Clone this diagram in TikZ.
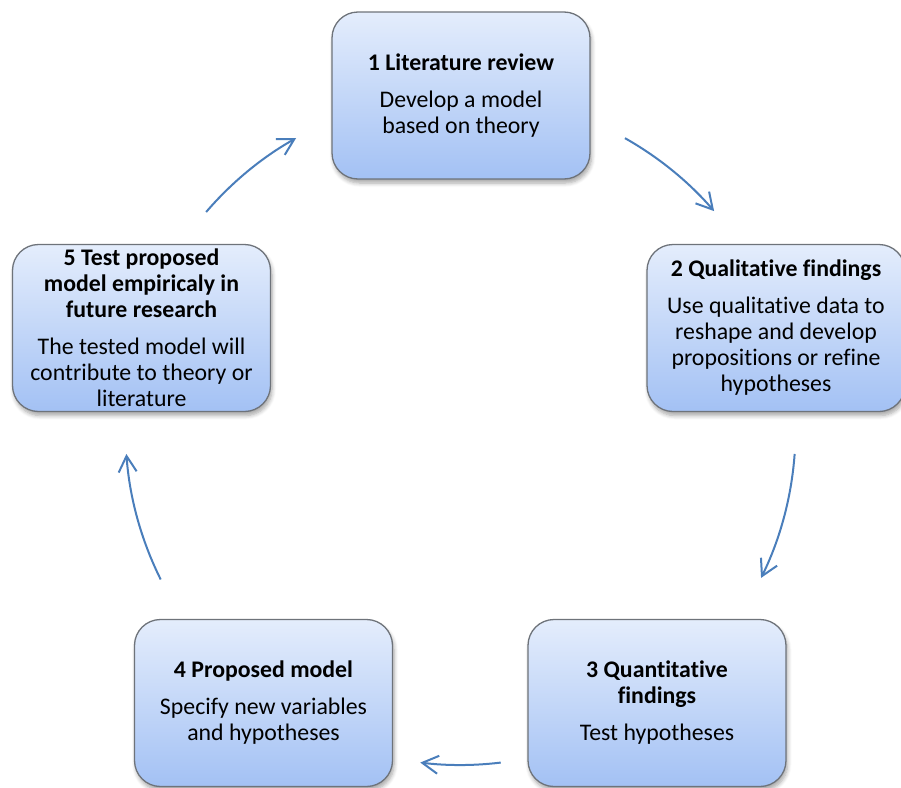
\documentclass[tikz,border=0pt]{standalone}
\usepackage{fontspec}
\setmainfont{Carlito}[Ligatures=NoCommon, Contextuals=NoAlternate, RawFeature={-liga;-dlig}]
\usetikzlibrary{arrows.meta,shadows.blur}
\definecolor{boxtop}{HTML}{E4EDFC}
\definecolor{boxbot}{HTML}{A3C1F4}
\definecolor{boxline}{HTML}{6E737A}
\definecolor{arrowblue}{HTML}{4A7EBB}
\tikzset{
  stage/.style={
    draw=boxline, line width=1.3pt, rounded corners=26pt,
    top color=boxtop, bottom color=boxbot,
    minimum width=258pt, minimum height=167pt,
    align=center, inner sep=0pt,
    font=\fontsize{23.8}{26}\selectfont,
    blur shadow={shadow xshift=1.5pt, shadow yshift=-4pt, shadow opacity=35, shadow blur steps=6, shadow blur radius=4pt}
  },
  cyclearrow/.style={
    draw=arrowblue, line width=2pt,
    -{Straight Barb[length=16pt,width=18pt,line width=2pt]}
  }
}
\begin{document}
\begin{tikzpicture}[x=1pt,y=-1pt]
  \useasboundingbox (0,0) rectangle (901,787);

  % the five stages of the cycle
  \node[stage] (lit) at (461,95.5)
    {\textbf{1 Literature review}\\[11pt]Develop a model\\based on theory};
  \node[stage] (qual) at (776,328)
    {\textbf{2 Qualitative findings}\\[11pt]Use qualitative data to\\reshape and develop\\propositions or refine\\hypotheses};
  \node[stage] (quant) at (657,703)
    {\textbf{3 Quantitative}\\\textbf{findings}\\[11pt]Test hypotheses};
  \node[stage] (prop) at (263.5,703)
    {\textbf{4 Proposed model}\\[11pt]Specify new variables\\and hypotheses};
  \node[stage] (test) at (141.5,328)
    {\textbf{5 Test proposed}\\\textbf{model empiricaly in}\\\textbf{future research}\\[11pt]The tested model will\\contribute to theory or\\literature};

  % clockwise arcs around a common centre
  \coordinate (hub) at (460.5,430);
  \path (hub) ++(60.6:335 and -335) coordinate (a1);
  \path (hub) ++(-4.1:335 and -335) coordinate (a2);
  \path (hub) ++(-83.1:335 and -335) coordinate (a3);
  \path (hub) ++(206.5:335 and -335) coordinate (a4);
  \path (hub) ++(139.4:335 and -335) coordinate (a5);

  \draw[cyclearrow] (a1) arc[start angle=-60.6, end angle=-40.8, radius=335];
  \draw[cyclearrow] (a2) arc[start angle=4.1, end angle=26.2, radius=335];
  \draw[cyclearrow] (a3) arc[start angle=83.1, end angle=96.9, radius=335];
  \draw[cyclearrow] (a4) arc[start angle=153.5, end angle=175.9, radius=335];
  \draw[cyclearrow] (a5) arc[start angle=220.6, end angle=240.6, radius=335];
\end{tikzpicture}
\end{document}
